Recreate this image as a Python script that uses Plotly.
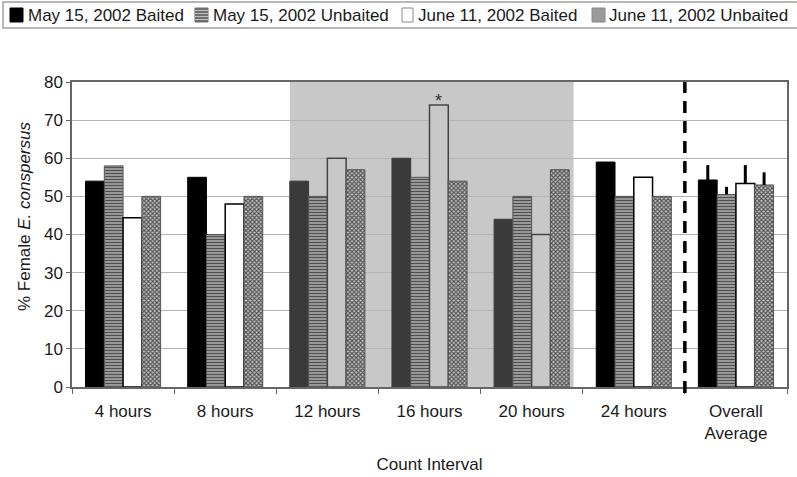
import plotly.graph_objects as go

# ---------------- data ----------------
categories = ["4 hours", "8 hours", "12 hours", "16 hours", "20 hours", "24 hours", "Overall<br>Average"]
series_names = ["May 15, 2002 Baited", "May 15, 2002 Unbaited", "June 11, 2002 Baited", "June 11, 2002 Unbaited"]
may_baited = [54, 55, 54, 60, 44, 59, 54.3]
may_unbaited = [58, 40, 50, 55, 50, 50, 50.5]
june_baited = [44.4, 48, 60, 74, 40, 55, 53.4]
june_unbaited = [50, 50, 57, 54, 57, 50, 53.0]
may_baited_err = [None, None, None, None, None, None, 3.9]
may_unbaited_err = [None, None, None, None, None, None, 2.0]
june_baited_err = [None, None, None, None, None, None, 4.8]
june_unbaited_err = [None, None, None, None, None, None, 3.3]
shaded = [False, False, True, True, True, False, False]
y_ticks = [0, 10, 20, 30, 40, 50, 60, 70, 80]

FONT = "Liberation Sans, Arial, sans-serif"
TXT = "#1a1a1a"
W, H = 797, 477
ML, MR, MT, MB = 72, 10, 82, 90
PW, PH = W - ML - MR, H - MT - MB


def px(x):
    return (x - ML) / PW


def py(y):
    return (H - MB - y) / PH


fig = go.Figure()

def pick(a, b):
    return [b if s else a for s in shaded]

# May baited: solid black (dark grey in shaded window)
fig.add_trace(go.Bar(
    x=categories, y=may_baited, name=series_names[0],
    marker=dict(color=pick("#000000", "#3a3a3a"),
                line=dict(color=pick("#000000", "#3a3a3a"), width=1)),
    error_y=dict(type="data", symmetric=False, array=may_baited_err,
                 arrayminus=[0] * 7, color="#000000", thickness=3, width=0),
))
# May unbaited: horizontal stripes
fig.add_trace(go.Bar(
    x=categories, y=may_unbaited, name=series_names[1],
    marker=dict(color="#b4b4b4",
                pattern=dict(shape="-", fgcolor="#505050", bgcolor="#b0b0b0",
                             size=3, solidity=0.5, fillmode="replace"),
                line=dict(color="#555555", width=1)),
    error_y=dict(type="data", symmetric=False, array=may_unbaited_err,
                 arrayminus=[0] * 7, color="#000000", thickness=3, width=0),
))
# June baited: white (light grey in shaded window)
fig.add_trace(go.Bar(
    x=categories, y=june_baited, name=series_names[2],
    marker=dict(color=pick("#ffffff", "#c8c8c8"),
                line=dict(color=pick("#000000", "#444444"), width=1.5)),
    error_y=dict(type="data", symmetric=False, array=june_baited_err,
                 arrayminus=[0] * 7, color="#000000", thickness=3, width=0),
))
# June unbaited: fine checker
fig.add_trace(go.Bar(
    x=categories, y=june_unbaited, name=series_names[3],
    marker=dict(color="#999999",
                pattern=dict(shape="x", fgcolor="#505050", bgcolor="#c8c8c8",
                             size=3, solidity=0.6, fillmode="replace"),
                line=dict(color="#555555", width=1)),
    error_y=dict(type="data", symmetric=False, array=june_unbaited_err,
                 arrayminus=[0] * 7, color="#000000", thickness=3, width=0),
))

shapes = []
# grey window behind 12-20 hours
shapes.append(dict(type="rect", xref="x", yref="y", x0=2 - 0.3675, x1=4 + 0.41,
                   y0=0, y1=80, fillcolor="#c8c8c8", line=dict(width=0), layer="below"))
# dashed separator before overall average
shapes.append(dict(type="line", xref="x", yref="paper", x0=5.5, x1=5.5, y0=-0.02, y1=1,
                   line=dict(color="#000000", width=3.5, dash="12px,8px")))

# custom legend box
shapes.append(dict(type="rect", xref="paper", yref="paper", x0=px(3), x1=px(805),
                   y0=py(28), y1=py(2), line=dict(color="#a0a0a0", width=1.5),
                   fillcolor="#ffffff"))
legend_swatches = [(10, 23), (195, 208), (402, 413), (592, 605)]
legend_text_x = [26, 211, 416, 607]
swatch_fill = ["#000000", "#6e6e6e", "#ffffff", "#9a9a9a"]
swatch_line = ["#000000", "#6e6e6e", "#8a8a8a", "#8a8a8a"]
for (x0, x1), fc, lc in zip(legend_swatches, swatch_fill, swatch_line):
    shapes.append(dict(type="rect", xref="paper", yref="paper", x0=px(x0), x1=px(x1),
                       y0=py(22), y1=py(8), fillcolor=fc, line=dict(color=lc, width=1)))
# stripes on swatch 2
for yy in [10.5, 13.5, 16.5, 19.5]:
    shapes.append(dict(type="line", xref="paper", yref="paper", x0=px(195), x1=px(208),
                       y0=py(yy), y1=py(yy), line=dict(color="#c0c0c0", width=1)))

annotations = []
for name, tx in zip(series_names, legend_text_x):
    annotations.append(dict(text=name, xref="paper", yref="paper", x=px(tx), y=py(15),
                            xanchor="left", yanchor="middle", showarrow=False,
                            font=dict(family=FONT, size=17, color=TXT)))
# significance asterisk over June baited, 16 hours
annotations.append(dict(text="*", xref="x", yref="y", x=3 + 0.092, y=june_baited[3],
                        xanchor="center", yanchor="bottom", showarrow=False, yshift=-8,
                        font=dict(family=FONT, size=18, color="#333333")))
# y-axis title (placed as rotated text)
annotations.append(dict(text="% Female <i>E. conspersus</i>", xref="paper", yref="paper",
                        x=px(24), y=py(217), xanchor="center", yanchor="middle",
                        textangle=-90, showarrow=False,
                        font=dict(family=FONT, size=17, color=TXT)))

fig.update_layout(
    width=W, height=H,
    margin=dict(l=ML, r=MR, t=MT, b=MB, autoexpand=False),
    paper_bgcolor="#ffffff", plot_bgcolor="#ffffff",
    barmode="group", bargap=0.265, bargroupgap=0,
    showlegend=False,
    font=dict(family=FONT, size=17, color=TXT),
    shapes=shapes, annotations=annotations,
    xaxis=dict(
        type="category", tickson="boundaries", ticks="outside", ticklen=5,
        tickcolor="#666666", showgrid=False, showline=True, linecolor="#666666",
        linewidth=1.5, mirror=True, tickfont=dict(size=17, color=TXT), automargin=False,
        ticklabelstandoff=8,
        title=dict(text="Count Interval", font=dict(size=17, color=TXT), standoff=16),
    ),
    yaxis=dict(
        range=[0, 80], tickvals=y_ticks, ticks="outside", ticklen=4,
        tickcolor="#666666", showgrid=True, gridcolor="#b4b4b4", gridwidth=1,
        showline=True, linecolor="#666666", linewidth=1.5, mirror=True,
        zeroline=False, tickfont=dict(size=17, color=TXT), automargin=False,
    ),
)

fig.write_html("out.html", config={"displayModeBar": False},
               post_script="document.body.style.margin='0';")
